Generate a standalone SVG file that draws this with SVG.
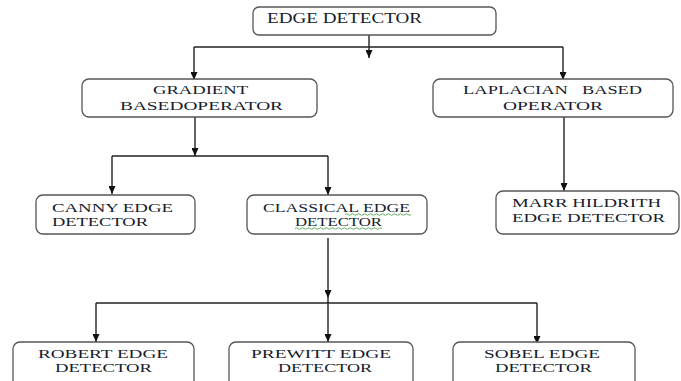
<svg xmlns="http://www.w3.org/2000/svg" width="681" height="381" viewBox="0 0 681 381">
<style>
.box{fill:#fff;stroke:#555;stroke-width:1.3}
.t{font-family:"Liberation Serif","Times New Roman",serif;font-size:13px;fill:#161c2c}
.c{fill:none;stroke:#222;stroke-width:1.4}
.sp{fill:none;stroke:#3c9a3c;stroke-width:0.8}
</style>
<defs>
<marker id="ah" markerUnits="userSpaceOnUse" markerWidth="8" markerHeight="7" refX="8" refY="3.5" orient="auto">
<path d="M0,0 L8,3.5 L0,7 Z" fill="#111"/>
</marker>
</defs>
<rect width="681" height="381" fill="#fff"/>
<g id="connectors">
<path class="c" d="M369,35 V58" marker-end="url(#ah)"/>
<path class="c" d="M194,47 H563"/>
<path class="c" d="M194,47 V80" marker-end="url(#ah)"/>
<path class="c" d="M563,47 V80" marker-end="url(#ah)"/>
<path class="c" d="M195,117 V156" marker-end="url(#ah)"/>
<path class="c" d="M112,156 H328"/>
<path class="c" d="M112,156 V194" marker-end="url(#ah)"/>
<path class="c" d="M328,156 V195" marker-end="url(#ah)"/>
<path class="c" d="M564,117 V191" marker-end="url(#ah)"/>
<path class="c" d="M328,238 V298" marker-end="url(#ah)"/>
<path class="c" d="M96,303 H537"/>
<path class="c" d="M96,303 V342" marker-end="url(#ah)"/>
<path class="c" d="M328,298 V342" marker-end="url(#ah)"/>
<path class="c" d="M537,303 V344" marker-end="url(#ah)"/>
</g>
<g id="edge-detector">
<rect class="box" x="253" y="7" width="243" height="28" rx="6"/>
<text class="t" style="font-size:14px" x="267" y="23" textLength="155" lengthAdjust="spacingAndGlyphs">EDGE DETECTOR</text>
</g>
<g id="gradient">
<rect class="box" x="82" y="79" width="235" height="38" rx="7"/>
<text class="t" x="153" y="94" textLength="95" lengthAdjust="spacingAndGlyphs">GRADIENT</text>
<text class="t" x="120" y="110" textLength="163" lengthAdjust="spacingAndGlyphs">BASEDOPERATOR</text>
</g>
<g id="laplacian">
<rect class="box" x="433" y="79" width="240" height="38" rx="7"/>
<text class="t" x="463" y="94" textLength="105" lengthAdjust="spacingAndGlyphs">LAPLACIAN</text>
<text class="t" x="582" y="94" textLength="60" lengthAdjust="spacingAndGlyphs">BASED</text>
<text class="t" x="503" y="110" textLength="100" lengthAdjust="spacingAndGlyphs">OPERATOR</text>
</g>
<g id="canny">
<rect class="box" x="36" y="195" width="159" height="39" rx="7"/>
<text class="t" x="52" y="212" textLength="121" lengthAdjust="spacingAndGlyphs">CANNY EDGE</text>
<text class="t" x="52" y="226" textLength="96" lengthAdjust="spacingAndGlyphs">DETECTOR</text>
</g>
<g id="classical">
<rect class="box" x="247" y="195" width="180" height="39" rx="7"/>
<text class="t" x="263" y="212" textLength="147" lengthAdjust="spacingAndGlyphs">CLASSICAL EDGE</text>
<text class="t" x="295" y="226" textLength="87" lengthAdjust="spacingAndGlyphs">DETECTOR</text>
<path class="sp" d="M345,214.5 q1.5,-1.5 3,0 t3,0 t3,0 t3,0 t3,0 t3,0 t3,0 t3,0 t3,0 t3,0 t3,0 t3,0 t3,0 t3,0 t3,0 t3,0 t3,0 t3,0 t3,0 t3,0 t3,0 t3,0"/>
<path class="sp" d="M295,228.5 q1.5,-1.5 3,0 t3,0 t3,0 t3,0 t3,0 t3,0 t3,0 t3,0 t3,0 t3,0 t3,0 t3,0 t3,0 t3,0 t3,0 t3,0 t3,0 t3,0 t3,0 t3,0 t3,0 t3,0 t3,0 t3,0 t3,0 t3,0 t3,0 t3,0 t3,0"/>
</g>
<g id="marr">
<rect class="box" x="496" y="191" width="183" height="43" rx="7"/>
<text class="t" x="512" y="207" textLength="149" lengthAdjust="spacingAndGlyphs">MARR HILDRITH</text>
<text class="t" x="512" y="222" textLength="153" lengthAdjust="spacingAndGlyphs">EDGE DETECTOR</text>
</g>
<g id="robert">
<rect class="box" x="13" y="342" width="181" height="50" rx="7"/>
<text class="t" x="38" y="358" textLength="130" lengthAdjust="spacingAndGlyphs">ROBERT EDGE</text>
<text class="t" x="55" y="372" textLength="97" lengthAdjust="spacingAndGlyphs">DETECTOR</text>
</g>
<g id="prewitt">
<rect class="box" x="229" y="342" width="184" height="50" rx="7"/>
<text class="t" x="251" y="358" textLength="140" lengthAdjust="spacingAndGlyphs">PREWITT EDGE</text>
<text class="t" x="278" y="372" textLength="94" lengthAdjust="spacingAndGlyphs">DETECTOR</text>
</g>
<g id="sobel">
<rect class="box" x="453" y="342" width="182" height="50" rx="7"/>
<text class="t" x="484" y="358" textLength="116" lengthAdjust="spacingAndGlyphs">SOBEL EDGE</text>
<text class="t" x="495" y="372" textLength="97" lengthAdjust="spacingAndGlyphs">DETECTOR</text>
</g>
</svg>
